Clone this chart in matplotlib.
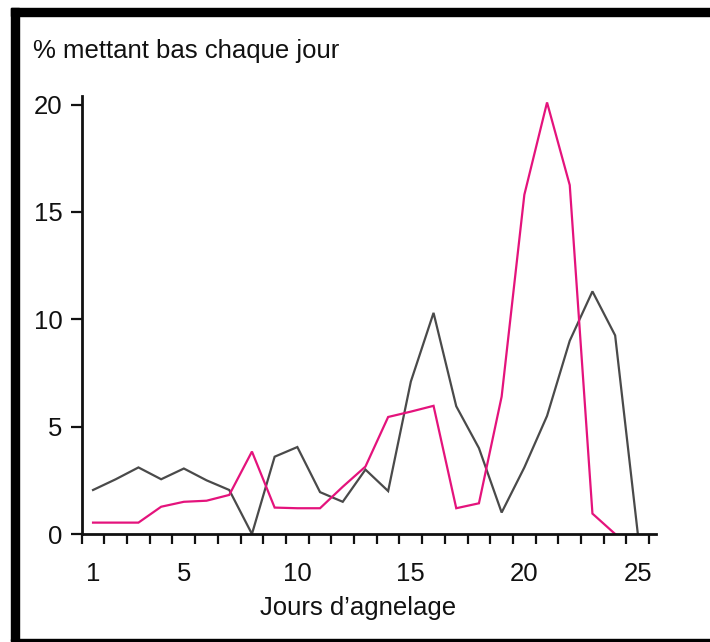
import matplotlib
matplotlib.use("Agg")
from matplotlib import pyplot as plt
from matplotlib.patches import Rectangle
from matplotlib.ticker import FixedLocator

plt.rcParams['font.family'] = ['Liberation Sans', 'DejaVu Sans']

# data
days_gray = list(range(1, 26))
gray = [2.05, 2.55, 3.1, 2.55, 3.05, 2.5, 2.05, 0, 3.6, 4.05, 1.95, 1.5, 3.0,
        2.0, 7.1, 10.3, 5.95, 4.0, 1.0, 3.1, 5.5, 9.0, 11.3, 9.25, 0]
days_pink = list(range(1, 25))
pink = [0.53, 0.53, 0.53, 1.27, 1.5, 1.55, 1.82, 3.84, 1.23, 1.2, 1.2, 2.2,
        3.14, 5.45, 5.7, 5.97, 1.2, 1.43, 6.4, 15.8, 20.1, 16.25, 0.95, 0]
xlabels = [1, 5, 10, 15, 20, 25]
yticks = [0, 5, 10, 15, 20]

W, H = 710, 642
fig = plt.figure(figsize=(W / 100, H / 100), dpi=100)
ax = fig.add_axes([81.7 / W, 1 - 534 / H, (656 - 81.7) / W, (534 - 96) / H])

ax.plot(days_gray, gray, color='#4a4a4a', lw=1.6, solid_joinstyle='miter')
ax.plot(days_pink, pink, color='#e4137c', lw=1.6, solid_joinstyle='miter')

ax.set_xlim(0.5, 25.8)
ax.set_ylim(0, 20.4)
for s in ['top', 'right']:
    ax.spines[s].set_visible(False)
for s in ['left', 'bottom']:
    ax.spines[s].set_linewidth(2.0)
    ax.spines[s].set_color('#111111')

ax.set_yticks(yticks)
ax.tick_params(axis='y', direction='out', length=8, width=1.6, pad=6,
               labelsize=18.5, colors='#111111')
ax.set_xticks(xlabels)
ax.tick_params(axis='x', which='major', length=0, pad=20, labelsize=18.5,
               colors='#111111')
ax.xaxis.set_minor_locator(FixedLocator([d + 0.5 for d in range(0, 26)]))
ax.tick_params(axis='x', which='minor', direction='out', length=7.5,
               width=1.6, color='#111111')

fig.text(33 / W, 1 - 58 / H, '% mettant bas chaque jour', fontsize=18.5,
         color='#111111', va='baseline', ha='left')
fig.text(358 / W, 1 - 615 / H, 'Jours d\u2019agnelage', fontsize=18.5,
         color='#111111', va='baseline', ha='center')

# frame around the picture
fig.patches.append(Rectangle((11 / W, 1 - 641 / H), 8 / W, 633 / H,
                             transform=fig.transFigure, color='black'))
fig.patches.append(Rectangle((11 / W, 1 - 16 / H), (W - 11) / W, 8 / H,
                             transform=fig.transFigure, color='black'))
fig.patches.append(Rectangle((11 / W, 1 - 641 / H), (W - 11) / W, 2 / H,
                             transform=fig.transFigure, color='black'))

fig.savefig('out.png', dpi=100)
